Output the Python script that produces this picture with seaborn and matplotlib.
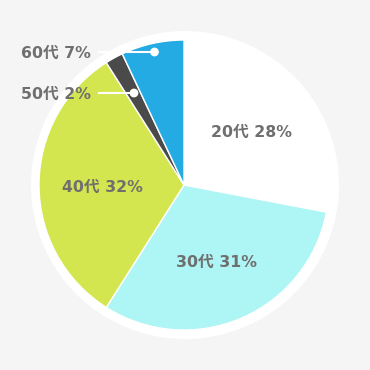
import matplotlib
matplotlib.use("Agg")
import matplotlib.pyplot as plt
import seaborn as sns
import numpy as np
from matplotlib.patches import Circle

categories = ["20代", "30代", "40代", "50代", "60代"]
values = [28, 31, 32, 2, 7]
colors = ["#ffffff", "#aef5f5", "#d4e64f", "#4a4a4a", "#25abe3"]
inside = [True, True, True, False, False]

sns.set_style("white")
plt.rcParams['font.family'] = ['DejaVu Sans', 'Noto Sans CJK JP']

fig = plt.figure(figsize=(3.7, 3.7), dpi=100)
fig.patch.set_facecolor("#f5f5f5")
ax = fig.add_axes([0, 0, 1, 1])
ax.set_facecolor("#f5f5f5")

cx, cy, R = 184, 185, 145
ax.add_patch(Circle((cx + 1, cy), 154, facecolor="white", edgecolor="none", zorder=0))

wedges, _ = ax.pie(values, colors=colors, startangle=90, counterclock=False,
                   radius=R, center=(cx, cy),
                   wedgeprops=dict(edgecolor="white", linewidth=1))
for w in wedges:
    w.set_zorder(1)

ax.set_xlim(0, 370)
ax.set_ylim(0, 370)
ax.set_aspect("equal")
ax.axis("off")

txtc = "#6f6f6f"
fs = 11.3
inner_r = [0.6, 0.56, 0.56]
outer_y = {"50代": 370 - 94, "60代": 370 - 53}
k = 0
for w, cat, v, ins in zip(wedges, categories, values, inside):
    mid = np.deg2rad((w.theta1 + w.theta2) / 2)
    label = f"{cat} {v}%"
    if ins:
        r = inner_r[k] * R
        k += 1
        ax.text(cx + r * np.cos(mid), cy + r * np.sin(mid) - 2.5, label, ha="center", va="center",
                fontsize=fs, fontweight="bold", color=txtc, zorder=5)
    else:
        ly = outer_y[cat]
        r = (ly - cy) / np.sin(mid)
        dx = cx + r * np.cos(mid)
        ax.plot([98, dx], [ly + 1, ly + 1], color="white", lw=1.5, zorder=4, solid_capstyle="butt")
        ax.scatter([dx], [ly + 1], s=40, color="white", zorder=6, edgecolors="none")
        ax.text(91, ly, label, ha="right", va="center", fontsize=fs, fontweight="bold",
                color=txtc, zorder=5)

fig.savefig("out.png", dpi=100, facecolor=fig.get_facecolor())
